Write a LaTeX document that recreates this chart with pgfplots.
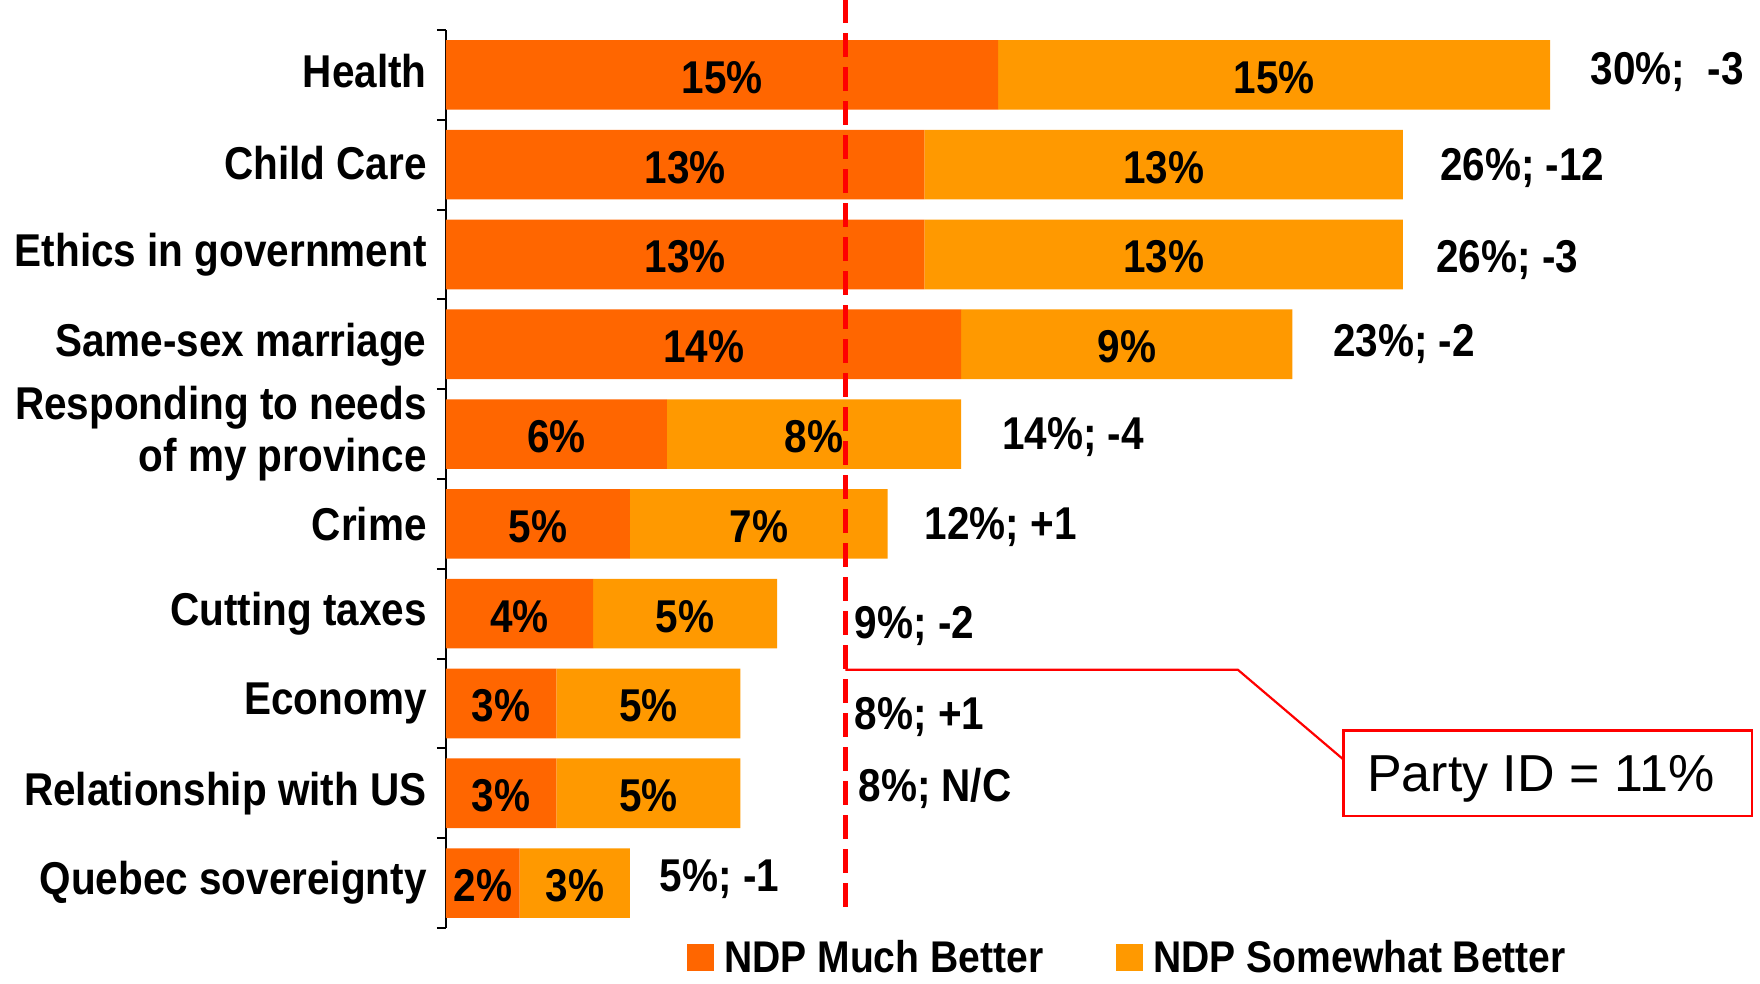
\documentclass[border=0pt]{standalone}
\usepackage{pgfplots}
\pgfplotsset{compat=1.18}
\usepackage{fontspec}
\setmainfont{Liberation Sans}[FakeStretch=0.88]
\newfontfamily\regfont{Liberation Sans}
\definecolor{darkor}{HTML}{FF6600}
\definecolor{lightor}{HTML}{FF9900}
\definecolor{callred}{HTML}{FF0000}
\newcommand\lbl{\fontsize{23pt}{26pt}\selectfont\bfseries}
\newcommand\leglbl{\fontsize{22.2pt}{25pt}\selectfont\bfseries}
\begin{document}
\begin{tikzpicture}[
  vlab/.style={font=\lbl, text=black, anchor=center, inner sep=0pt},
  rlab/.style={font=\lbl, anchor=west, inner sep=0pt}]
\begin{axis}[
  at={(0,0)}, anchor=south west,
  x=18.4pt, y=44.9pt,
  xmin=0, xmax=35, ymin=-0.5, ymax=9.5,
  xbar stacked, bar width=0.775,
  axis x line=none, axis y line*=left,
  axis line style={line width=1pt, black},
  ytick={0,...,9},
  yticklabels={Quebec sovereignty, \raisebox{-4pt}{Relationship with US}, \raisebox{-2.8pt}{Economy}, \raisebox{-3.4pt}{Cutting taxes}, \raisebox{-2.8pt}{Crime}, {Responding to needs\\of my province}, \raisebox{3.4pt}{Same-sex marriage}, \raisebox{-1pt}{Ethics in government}, \raisebox{1.7pt}{Child Care}, \raisebox{4.5pt}{Health}},
  major tick length=0pt,
  yticklabel style={font=\lbl, align=right, anchor=east, inner sep=0pt, xshift=-9.5pt},
  extra y ticks={-0.5,0.5,...,9.5},
  extra y tick labels={},
  extra y tick style={major tick length=4.5pt, tick style={line width=1pt, black}},
  tick align=outside,
  ytick pos=left,
  clip=false,
  legend columns=2,
  legend image code/.code={\fill[#1] (0pt,-6.75pt) rectangle (13.5pt,6.75pt);},
  legend style={at={(axis description cs:0.187,-0.033)}, anchor=west, draw=none, fill=none, inner sep=0pt, font=\leglbl, nodes={inner xsep=5pt, inner ysep=0pt}, /tikz/every even column/.append style={column sep=31.5pt}},
]
\addplot[fill=darkor, draw=none] table[x=v, y=c] {
c v
0 2
1 3
2 3
3 4
4 5
5 6
6 14
7 13
8 13
9 15
};
\addplot[fill=lightor, draw=none] table[x=v, y=c] {
c v
0 3
1 5
2 5
3 5
4 7
5 8
6 9
7 13
8 13
9 15
};
\legend{NDP Much Better, NDP Somewhat Better}

\coordinate (a1) at (axis cs:7.5,8.97);
\coordinate (b1) at (axis cs:22.5,8.97);
\coordinate (a2) at (axis cs:6.5,7.97);
\coordinate (b2) at (axis cs:19.5,7.97);
\coordinate (a3) at (axis cs:6.5,6.97);
\coordinate (b3) at (axis cs:19.5,6.97);
\coordinate (a4) at (axis cs:7,5.97);
\coordinate (b4) at (axis cs:18.5,5.97);
\coordinate (a5) at (axis cs:3,4.97);
\coordinate (b5) at (axis cs:10,4.97);
\coordinate (a6) at (axis cs:2.5,3.97);
\coordinate (b6) at (axis cs:8.5,3.97);
\coordinate (a7) at (axis cs:2,2.97);
\coordinate (b7) at (axis cs:6.5,2.97);
\coordinate (a8) at (axis cs:1.5,1.97);
\coordinate (b8) at (axis cs:5.5,1.97);
\coordinate (a9) at (axis cs:1.5,0.97);
\coordinate (b9) at (axis cs:5.5,0.97);
\coordinate (a10) at (axis cs:1,-0.03);
\coordinate (b10) at (axis cs:3.5,-0.03);
\coordinate (d1) at (axis cs:10.85,9.84);
\coordinate (d2) at (axis cs:10.85,-0.31);

\node[rlab] at (axis cs:31.1,9.03) {30\%;\ \ -3};
\node[rlab] at (axis cs:27.0,7.96) {26\%; -12};
\node[rlab] at (axis cs:26.9,6.94) {26\%; -3};
\node[rlab] at (axis cs:24.1,6.0) {23\%; -2};
\node[rlab] at (axis cs:15.1,4.97) {14\%; -4};
\node[rlab] at (axis cs:13.0,3.96) {12\%; +1};
\node[rlab] at (axis cs:11.1,2.86) {9\%; -2};
\node[rlab] at (axis cs:11.1,1.85) {8\%; +1};
\node[rlab] at (axis cs:11.2,1.05) {8\%; N/C};
\node[rlab] at (axis cs:5.8,0.04) {5\%; -1};

\draw[callred, line width=1.1pt] (axis cs:10.85,2.375) -- (axis cs:21.52,2.375) -- (axis cs:24.39,1.375);
\draw[callred, line width=1.1pt] (axis cs:24.39,0.75) rectangle (axis cs:35.49,1.7);
\node[font=\regfont\fontsize{26pt}{30pt}\selectfont, anchor=center, inner sep=0pt] at (axis cs:29.75,1.16) {Party ID = 11\%};

\coordinate (O) at (rel axis cs:0,0);
\end{axis}
\node[vlab] at (a1) {15\%};
\node[vlab] at (b1) {15\%};
\node[vlab] at (a2) {13\%};
\node[vlab] at (b2) {13\%};
\node[vlab] at (a3) {13\%};
\node[vlab] at (b3) {13\%};
\node[vlab] at (a4) {14\%};
\node[vlab] at (b4) {9\%};
\node[vlab] at (a5) {6\%};
\node[vlab] at (b5) {8\%};
\node[vlab] at (a6) {5\%};
\node[vlab] at (b6) {7\%};
\node[vlab] at (a7) {4\%};
\node[vlab] at (b7) {5\%};
\node[vlab] at (a8) {3\%};
\node[vlab] at (b8) {5\%};
\node[vlab] at (a9) {3\%};
\node[vlab] at (b9) {5\%};
\node[vlab] at (a10) {2\%};
\node[vlab] at (b10) {3\%};
\draw[callred, line width=2.25pt, dash pattern=on 12pt off 5pt] (d1) -- (d2);
\pgfresetboundingbox
\path[use as bounding box] ([shift={(-223pt,-28pt)}]O) rectangle ([shift={(657pt,464pt)}]O);
\end{tikzpicture}
\end{document}
